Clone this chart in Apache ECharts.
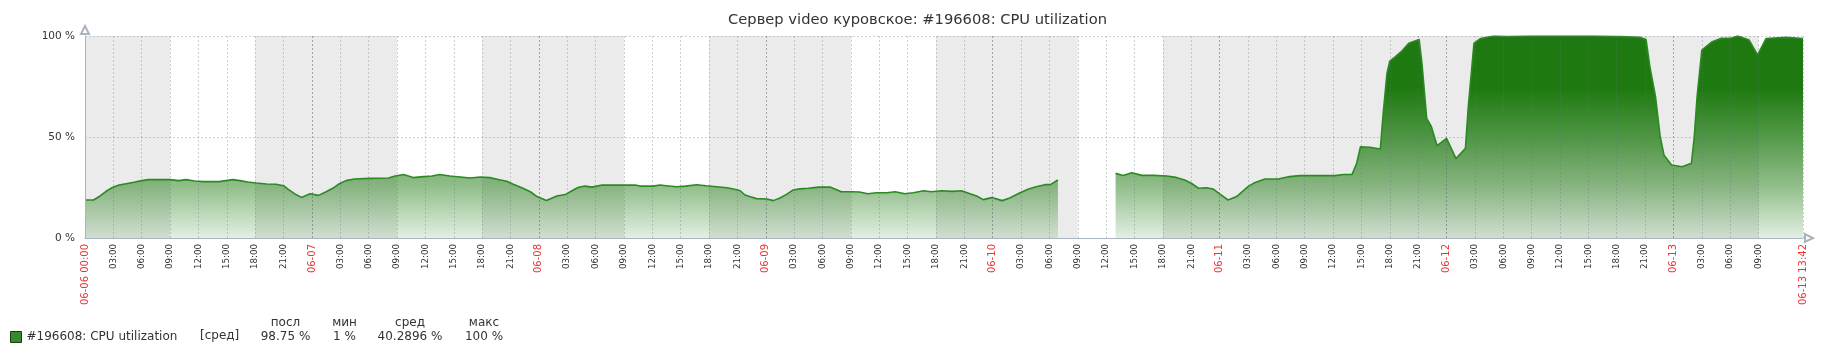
<!DOCTYPE html>
<html><head><meta charset="utf-8">
<script src="https://cdn.jsdelivr.net/npm/echarts@6/dist/echarts.min.js"></script>
<style>html,body{margin:0;padding:0;background:#fff}#c{width:1835px;height:355px}</style>
</head><body><div id="c"></div>
<script>
const chartTitle = 'Сервер video куровское: #196608: CPU utilization';
const seriesName = '#196608: CPU utilization';

// hours since 06-06 00:00
const hours = [
  0, 0.9, 1.6, 2.2, 2.9, 3.6, 4.5, 5.3, 6.0, 6.7, 7.9, 9.0, 9.9, 10.7, 11.6, 12.5, 14.2, 14.9, 15.6, 16.4,
  17.2, 18.1, 19.2, 20.2, 21.0, 21.5, 22.2, 22.9, 23.8, 24.7, 25.5, 26.2, 26.9, 27.6, 28.5, 30.1,
  32.1, 32.8, 33.7, 34.7, 35.8, 36.7, 37.5, 38.6, 39.7, 40.7, 41.8, 42.8, 43.7, 44.6, 45.3, 46.2,
  47.1, 47.8, 48.8, 49.9, 50.8, 51.5, 52.2, 52.9, 53.6, 54.7, 56.2, 58.2, 58.7, 60.1, 60.8,
  61.5, 62.6, 63.5, 64.7, 65.7, 66.8, 67.9, 68.7, 69.3, 69.8, 70.3, 71.0, 72.1, 72.8, 73.5, 74.2,
  74.9, 75.6, 76.5, 77.6, 78.8, 79.3, 80.0, 81.2, 81.9, 82.8, 83.7, 84.8, 85.7, 86.7, 87.6, 88.7,
  89.5, 90.6, 91.7, 92.7, 93.6, 94.3, 95.0, 95.9, 97.0, 97.8, 98.9, 99.8, 100.6, 101.5, 102.1, 102.9,
  106.0,
  109.0, 109.8, 110.7, 111.8, 113.0, 114.4, 115.4, 116.3, 117.0, 117.8, 118.6, 119.3, 120.0, 120.9,
  121.8, 123.0, 123.7, 124.8, 126.2, 127.4, 128.5, 132.2, 133.1, 134.0, 134.5, 134.9, 135.9, 137.0,
  137.3, 137.7, 138.0, 138.6, 139.3, 140.0, 141.1, 141.4, 141.9, 142.4, 143.0, 144.0, 145.0, 146.0,
  146.3, 146.9, 147.6, 149.0, 150.4, 152.9, 156.4, 159.5, 162.4, 164.5, 165.1, 165.5, 166.1, 166.6,
  167.0, 167.8, 168.9, 169.9, 170.2, 170.5, 171.0, 172.1, 173.0, 174.0, 174.8, 176.0, 176.9, 177.8,
  179.9, 181.7
];
const cpu = [
  18.8, 18.8, 20.8, 23.0, 25.0, 26.2, 27.0, 27.7, 28.4, 28.9, 28.9, 28.9, 28.4, 28.9, 28.2, 27.9, 27.9, 28.4, 28.9, 28.4,
  27.7, 27.2, 26.7, 26.6, 25.9, 24.1, 21.8, 20.1, 21.9, 21.1, 22.9, 24.6, 26.9, 28.4, 29.2, 29.5,
  29.7, 30.7, 31.4, 29.9, 30.4, 30.7, 31.4, 30.7, 30.2, 29.7, 30.2, 29.9, 29.0, 28.1, 26.6, 24.9,
  22.9, 20.5, 18.6, 20.8, 21.5, 23.4, 25.1, 25.7, 25.2, 26.2, 26.2, 26.2, 25.7, 25.7, 26.2,
  25.9, 25.4, 25.7, 26.4, 25.9, 25.4, 24.9, 24.1, 23.4, 21.3, 20.5, 19.5, 19.3, 18.5, 19.8, 21.6,
  23.8, 24.3, 24.6, 25.2, 25.2, 24.3, 22.9, 22.9, 22.8, 21.9, 22.4, 22.4, 22.9, 21.9, 22.4, 23.4,
  22.9, 23.4, 23.1, 23.4, 21.9, 20.8, 19.0, 20.0, 18.5, 19.8, 22.4, 24.3, 25.4, 26.4, 26.4, 28.7,
  null,
  32.0, 30.9, 32.3, 31.0, 31.0, 30.7, 30.0, 28.7, 27.1, 24.6, 24.9, 24.3, 21.8, 18.8,
  20.5, 25.4, 27.4, 29.2, 29.2, 30.4, 30.9, 30.9, 31.4, 31.4, 37.0, 45.2, 44.9, 44.1,
  61.7, 81.5, 87.6, 89.8, 92.7, 96.4, 98.3, 86.5, 59.2, 55.1, 45.7, 49.3, 39.3, 44.4,
  65.0, 96.4, 98.8, 100, 99.7, 100, 100, 100, 99.7, 99.3, 98.3, 85.0, 70.0, 50.0,
  41.0, 36.1, 35.3, 37.0, 50.0, 70.0, 93.0, 97.2, 98.8, 98.8, 100, 98.0, 90.6, 98.8,
  99.3, 98.75
];

// non-working time bands (hours)
const offHours = [[0, 9], [18, 33], [42, 57], [66, 81], [90, 105], [114, 177]];
const endHour = 181.7;
const dayLabels = {0: '06-06 00:00', 24: '06-07', 48: '06-08', 72: '06-09', 96: '06-10', 120: '06-11', 144: '06-12', 168: '06-13'};
const endLabel = '06-13 13:42';
const skipHour = 180;
const statFunc = '[сред]';
const statHeaders = ['посл', 'мин', 'сред', 'макс'];
const statValues = ['98.75 %', '1 %', '40.2896 %', '100 %'];
const statX = [285.5, 344.5, 410, 484];

const FONT = 'DejaVu Sans';
const GREEN = '30,122,16';

const seriesData = hours.map((h, i) => [h, cpu[i]]);

// split line colours, one per tick (every 3h + end tick)
const tickCount = Math.floor(endHour / 3) + 2;
const splitColors = [];
for (let i = 0; i < tickCount; i++) {
  const h = i * 3;
  if (i === 0 || h === skipHour) splitColors.push('rgba(0,0,0,0)');
  else if (i < tickCount - 1 && h % 24 === 0) splitColors.push('rgba(90,105,115,0.55)');
  else splitColors.push('rgba(100,115,130,0.32)');
}

const chart = echarts.init(document.getElementById('c'), null, {renderer: 'canvas'});
chart.setOption({
  animation: false,
  backgroundColor: '#fff',
  textStyle: {fontFamily: FONT},
  title: {
    text: chartTitle, left: 'center', top: 8,
    textStyle: {fontFamily: FONT, fontSize: 14.7, fontWeight: 'normal', color: '#333'}
  },
  grid: {left: 85, right: 32, top: 36, bottom: 117, containLabel: false},
  legend: {
    left: 10, top: 331, padding: 0, itemWidth: 11, itemHeight: 11,
    textStyle: {fontFamily: FONT, fontSize: 12, color: '#333'},
    data: [{name: seriesName, icon: 'rect', itemStyle: {color: '#378a2e', borderColor: '#1b3f12', borderWidth: 1}}]
  },
  xAxis: {
    type: 'value', min: 0, max: endHour, interval: 3, z: 4,
    axisLine: {show: true, lineStyle: {color: '#a9b4be', width: 1},
      symbol: ['none', 'emptyTriangle'], symbolSize: [8, 8], symbolOffset: [0, 6]},
    axisTick: {show: false},
    splitLine: {show: true, lineStyle: {color: splitColors, type: [2, 2], width: 1}},
    axisLabel: {
      rotate: 90, margin: 6, showMinLabel: true, showMaxLabel: true,
      formatter: function (v) {
        if (v > endHour - 1) return '{d|' + endLabel + '}';
        const h = Math.round(v);
        if (h === skipHour) return '';
        if (h % 24 === 0) return '{d|' + dayLabels[h] + '}';
        const hh = h % 24;
        return '{t|' + (hh < 10 ? '0' : '') + hh + ':00}';
      },
      rich: {
        d: {fontFamily: FONT, fontSize: 10, color: '#ee3333'},
        t: {fontFamily: FONT, fontSize: 8.7, color: '#333'}
      }
    }
  },
  yAxis: {
    type: 'value', min: 0, max: 100, interval: 50, z: 4,
    axisLine: {show: true, lineStyle: {color: '#a9b4be', width: 1},
      symbol: ['none', 'emptyTriangle'], symbolSize: [8, 8], symbolOffset: [0, 6]},
    axisTick: {show: false},
    splitLine: {show: true, lineStyle: {color: 'rgba(100,115,130,0.32)', type: [2, 2], width: 1}},
    axisLabel: {formatter: '{value} %', fontFamily: FONT, fontSize: 10.5, color: '#333', margin: 10}
  },
  series: [
    {
      type: 'line', name: 'bands', data: [], z: 1, silent: true,
      markArea: {
        silent: true,
        itemStyle: {color: '#ebebeb'},
        data: offHours.map(b => [{xAxis: b[0]}, {xAxis: b[1]}])
      }
    },
    {
      type: 'line', name: seriesName, data: seriesData, z: 2,
      showSymbol: false, connectNulls: false,
      lineStyle: {color: '#2b8a22', width: 1.6},
      itemStyle: {color: '#378a2e'},
      areaStyle: {
        opacity: 1,
        color: {
          type: 'linear', x: 0, y: 36, x2: 0, y2: 238, global: true,
          colorStops: [
            {offset: 0, color: 'rgba(' + GREEN + ',1)'},
            {offset: 0.26, color: 'rgba(' + GREEN + ',1)'},
            {offset: 0.5, color: 'rgba(' + GREEN + ',0.76)'},
            {offset: 0.75, color: 'rgba(' + GREEN + ',0.48)'},
            {offset: 1, color: 'rgba(' + GREEN + ',0.12)'}
          ]
        }
      }
    }
  ],
  graphic: [
    {type: 'text', left: 200, top: 330, style: {text: statFunc, font: '12px "DejaVu Sans"', fill: '#333'}}
  ].concat(statHeaders.map((t, i) => ({
    type: 'text', x: statX[i], y: 323,
    style: {text: t, font: '12px "DejaVu Sans"', fill: '#333', textAlign: 'center', textVerticalAlign: 'middle'}
  }))).concat(statValues.map((t, i) => ({
    type: 'text', x: statX[i], y: 337,
    style: {text: t, font: '12px "DejaVu Sans"', fill: '#333', textAlign: 'center', textVerticalAlign: 'middle'}
  })))
});
</script>
</body></html>
